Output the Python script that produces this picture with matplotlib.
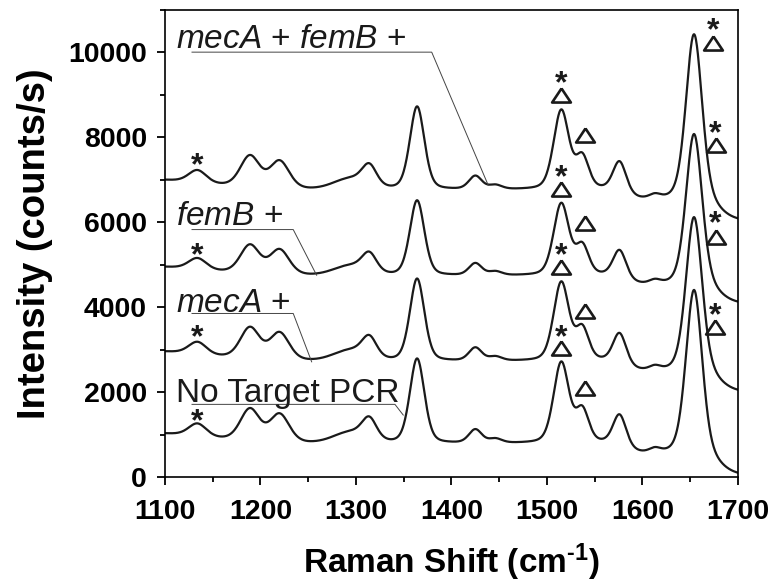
import numpy as np
import matplotlib
matplotlib.use("Agg")
import matplotlib.pyplot as plt
from matplotlib.transforms import offset_copy

plt.rcParams['font.family'] = ['Liberation Sans', 'DejaVu Sans']
plt.rcParams['mathtext.fontset'] = 'custom'
plt.rcParams['mathtext.rm'] = 'Liberation Sans:bold'
plt.rcParams['mathtext.it'] = 'Liberation Sans:italic'
plt.rcParams['mathtext.bf'] = 'Liberation Sans:bold'

# Raman bands (cm-1, FWHM cm-1)
band_centers = [1134, 1189, 1220, 1314, 1364, 1425, 1446, 1515, 1537, 1576, 1613, 1654]
band_widths = [22, 24, 24, 18, 18, 16, 16, 19, 16, 16, 14, 20]

# band heights for each spectrum (counts/s)
heights_none = [300, 760, 665, 470, 2000, 320, 100, 1900, 760, 700, 100, 3900]
heights_meca = [290, 740, 645, 455, 1945, 310, 97, 1850, 740, 680, 97, 3670]
heights_femb = [265, 675, 590, 420, 1775, 285, 90, 1690, 675, 620, 90, 3590]
heights_both = [295, 745, 650, 460, 1960, 315, 98, 1860, 745, 685, 98, 3940]

# baseline: level, left hump, hump near 1295, step down near 1585, drop after 1680
base_level = [780, 2718, 4732, 6757]
left_hump = [250, 243, 222, 245]
mid_hump = [260, 253, 231, 255]
step_1585 = [260, 253, 231, 255]
step_1680 = [510, 496, 452, 500]

trace_labels = ['No Target PCR', r'$\mathit{mecA}$ +', r'$\mathit{femB}$ +',
                r'$\mathit{mecA}$ + $\mathit{femB}$ +']
label_x = 1111.5
label_y = [1773, 3890, 5929, 10094]
# leader lines: start, corner, end on trace
leader_x = [[1128.3, 1340.8, 1349.5], [1128.3, 1234.3, 1253.6],
            [1128.3, 1234.3, 1258.8], [1128.3, 1379.3, 1438.5]]
leader_y = [[1711, 1711, 1459], [3852, 3852, 2713],
            [5828, 5828, 4753], [10007, 10007, 6871]]

# band markers
star_x = [1134, 1134, 1134, 1134, 1515, 1515, 1515, 1515, 1676, 1676.6, 1676.6, 1673.5]
star_y = [1459, 3442, 5381, 7499, 3459, 5381, 7224, 9435, 3969, 6125, 8259, 10675]
tri_x = [1515, 1515, 1515, 1515, 1540, 1540, 1540, 1540, 1676, 1676.6, 1676.6, 1673.5]
tri_y = [3028, 4948, 6793, 8988, 2087, 3913, 5984, 8047, 3536, 5654, 7812, 10219]

x = np.linspace(1100, 1700, 1201)


def band(xc, w, h, eta=0.3):
    g = np.exp(-4 * np.log(2) * (x - xc) ** 2 / w ** 2)
    l = 1 / (1 + 4 * (x - xc) ** 2 / w ** 2)
    return h * ((1 - eta) * g + eta * l)


def spectrum(i, heights):
    y = np.full_like(x, base_level[i])
    y += left_hump[i] * np.exp(-(x - 1080) ** 2 / (2 * 60 ** 2))
    y += mid_hump[i] * np.exp(-(x - 1295) ** 2 / (2 * 18 ** 2))
    y -= step_1585[i] / (1 + np.exp(-(x - 1585) / 6))
    y -= step_1680[i] / (1 + np.exp(-(x - 1679) / 8))
    for c, w, h in zip(band_centers, band_widths, heights):
        y += band(c, w, h)
    return y


fig = plt.figure(figsize=(7.76, 5.84), dpi=100)
ax = fig.add_axes([0.2126, 0.1832, 0.7384, 0.7997])

for i, hts in enumerate([heights_none, heights_meca, heights_femb, heights_both]):
    ax.plot(x, spectrum(i, hts), color='#1a1a1a', lw=1.6)
    ax.plot(leader_x[i], leader_y[i], color='#444444', lw=0.7)
    ax.text(label_x, label_y[i], trace_labels[i], fontsize=24, va='baseline',
            ha='left', color='#1a1a1a', fontweight='normal')

# open triangles, a bit wider than tall
tri_marker = [(0, 0.75), (-1, -0.75), (1, -0.75), (0, 0.75)]
ax.plot(tri_x, tri_y, ls='none', marker=tri_marker, ms=13.5, mfc='none',
        mec='#1a1a1a', mew=1.9)
star_tr = offset_copy(ax.transData, fig=fig, y=-3, units='points')
for sx, sy in zip(star_x, star_y):
    ax.text(sx, sy, '*', fontsize=23, ha='center', va='center_baseline',
            color='#1a1a1a', fontweight='bold', transform=star_tr)

ax.set_xlim(1100, 1700)
ax.set_ylim(0, 11000)
ax.set_xticks(np.arange(1100, 1701, 100))
ax.set_xticks(np.arange(1100, 1701, 50), minor=True)
ax.set_yticks(np.arange(0, 10001, 2000))
ax.set_yticks(np.arange(0, 11001, 1000), minor=True)
ax.tick_params(which='both', direction='out', width=1.3, top=False, right=False)
ax.tick_params(which='major', length=6, labelsize=20.5)
ax.tick_params(axis='x', which='major', pad=10)
ax.tick_params(axis='y', which='major', pad=7)
ax.tick_params(which='minor', length=3.5)
for lab in ax.get_xticklabels() + ax.get_yticklabels():
    lab.set_fontweight('bold')
for s in ax.spines.values():
    s.set_linewidth(1.2)

ax.set_xlabel(r'Raman Shift (cm$^{\text{-}1}$)', fontsize=24, fontweight='bold', labelpad=12)
ax.set_ylabel('Intensity (counts/s)', fontsize=27.5, fontweight='bold', labelpad=11)

fig.savefig('out.png', dpi=100)
